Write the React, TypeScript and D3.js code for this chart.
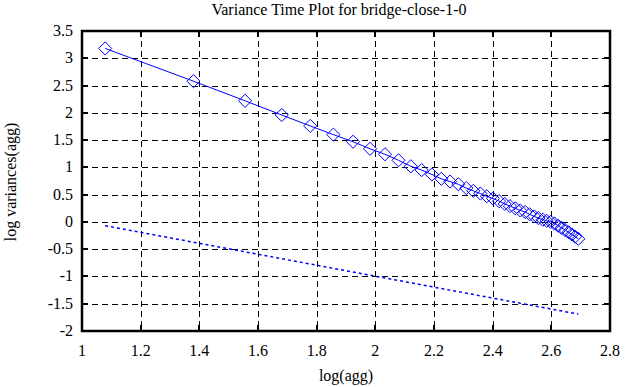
import React, { useEffect, useRef } from 'react';
import * as d3 from 'd3';

// log10 of aggregation level
const logAgg = [
  1.079, 1.380, 1.556, 1.681, 1.778, 1.857, 1.924, 1.982, 2.033, 2.079,
  2.121, 2.158, 2.193, 2.225, 2.255, 2.283, 2.310, 2.334, 2.358, 2.380,
  2.401, 2.422, 2.441, 2.459, 2.477, 2.494, 2.511, 2.526, 2.542, 2.556,
  2.571, 2.584, 2.598, 2.611, 2.623, 2.635, 2.647, 2.659, 2.670, 2.681,
  2.692,
];
// log variance of aggregated series
const logVar = [
  3.18, 2.58, 2.22, 1.96, 1.76, 1.60, 1.47, 1.34, 1.24, 1.13,
  1.02, 0.95, 0.87, 0.79, 0.74, 0.69, 0.62, 0.57, 0.52, 0.47,
  0.43, 0.38, 0.33, 0.29, 0.25, 0.21, 0.18, 0.14, 0.10, 0.07,
  0.04, 0.02, 0.00, -0.03, -0.07, -0.11, -0.15, -0.19, -0.23, -0.27,
  -0.31,
];
// reference line (slope -1)
const refX = [1.079, 2.692];
const refY = [-0.07, -1.69];

const xTicks = [1, 1.2, 1.4, 1.6, 1.8, 2, 2.2, 2.4, 2.6, 2.8];
const yTicks = [-2, -1.5, -1, -0.5, 0, 0.5, 1, 1.5, 2, 2.5, 3, 3.5];

const W = 626;
const H = 387;
const FONT = '"Liberation Serif", "Times New Roman", serif';

export default function App() {
  const ref = useRef<SVGSVGElement>(null);

  useEffect(() => {
    const svg = d3.select(ref.current);
    svg.selectAll('*').remove();

    const x = d3.scaleLinear().domain([1, 2.8]).range([82, 610]);
    const y = d3.scaleLinear().domain([-2, 3.5]).range([331, 31]);
    const [x0, x1] = x.range();
    const [y0, y1] = y.range();

    svg.append('rect').attr('width', W).attr('height', H).attr('fill', '#fff');

    // grid
    const grid = svg.append('g')
      .attr('stroke', '#000')
      .attr('stroke-width', 1)
      .attr('stroke-dasharray', '6,4')
      .attr('shape-rendering', 'crispEdges');
    grid.selectAll('.gx')
      .data(xTicks.slice(1, -1))
      .enter().append('line')
      .attr('x1', d => Math.round(x(d)) + 0.5).attr('x2', d => Math.round(x(d)) + 0.5)
      .attr('y1', y1).attr('y2', y0);
    grid.selectAll('.gy')
      .data(yTicks.slice(1, -1))
      .enter().append('line')
      .attr('x1', x0).attr('x2', x1)
      .attr('y1', d => Math.round(y(d)) + 0.5).attr('y2', d => Math.round(y(d)) + 0.5);

    // tick marks on all four sides
    const ticks = svg.append('g')
      .attr('stroke', '#000')
      .attr('stroke-width', 2)
      .attr('shape-rendering', 'crispEdges');
    xTicks.forEach(t => {
      ticks.append('line').attr('x1', x(t)).attr('x2', x(t)).attr('y1', y0).attr('y2', y0 - 6);
      ticks.append('line').attr('x1', x(t)).attr('x2', x(t)).attr('y1', y1).attr('y2', y1 + 6);
    });
    yTicks.forEach(t => {
      ticks.append('line').attr('x1', x0).attr('x2', x0 + 6).attr('y1', y(t)).attr('y2', y(t));
      ticks.append('line').attr('x1', x1).attr('x2', x1 - 6).attr('y1', y(t)).attr('y2', y(t));
    });

    // frame
    svg.append('rect')
      .attr('x', x0).attr('y', y1)
      .attr('width', x1 - x0).attr('height', y0 - y1)
      .attr('fill', 'none')
      .attr('stroke', '#000')
      .attr('stroke-width', 2.5);

    // tick labels
    svg.append('g').selectAll('text')
      .data(xTicks)
      .enter().append('text')
      .attr('x', d => x(d))
      .attr('y', 356)
      .attr('text-anchor', 'middle')
      .attr('font-family', FONT)
      .attr('font-size', 16)
      .text(d => String(d));
    svg.append('g').selectAll('text')
      .data(yTicks)
      .enter().append('text')
      .attr('x', 73)
      .attr('y', d => y(d) + 5)
      .attr('text-anchor', 'end')
      .attr('font-family', FONT)
      .attr('font-size', 16)
      .text(d => String(d));

    // titles
    svg.append('text')
      .attr('x', 339).attr('y', 15)
      .attr('text-anchor', 'middle')
      .attr('font-family', FONT).attr('font-size', 16)
      .text('Variance Time Plot for bridge-close-1-0');
    svg.append('text')
      .attr('x', 346).attr('y', 381)
      .attr('text-anchor', 'middle')
      .attr('font-family', FONT).attr('font-size', 16)
      .text('log(agg)');
    svg.append('text')
      .attr('transform', 'translate(16,182) rotate(-90)')
      .attr('text-anchor', 'middle')
      .attr('font-family', FONT).attr('font-size', 16)
      .text('log variances(agg)');

    // data line + diamonds
    const pts = logAgg.map((a, i) => [a, logVar[i]] as [number, number]);
    const line = d3.line<[number, number]>().x(d => x(d[0])).y(d => y(d[1]));
    svg.append('path')
      .datum(pts)
      .attr('d', line)
      .attr('fill', 'none')
      .attr('stroke', '#0000ff')
      .attr('stroke-width', 1);
    const diamond = d3.symbol().type(d3.symbolDiamond2).size(110);
    svg.append('g').selectAll('path')
      .data(pts)
      .enter().append('path')
      .attr('d', diamond)
      .attr('transform', d => `translate(${x(d[0])},${y(d[1])})`)
      .attr('fill', 'none')
      .attr('stroke', '#0000ff')
      .attr('stroke-width', 1);

    // reference line
    const refPts = refX.map((a, i) => [a, refY[i]] as [number, number]);
    svg.append('path')
      .datum(refPts)
      .attr('d', line)
      .attr('fill', 'none')
      .attr('stroke', '#0000ff')
      .attr('stroke-width', 1.5)
      .attr('stroke-dasharray', '3,3');
  }, []);

  return (
    <svg
      ref={ref}
      width={W}
      height={H}
      style={{ position: 'absolute', left: 0, top: 0 }}
    />
  );
}
